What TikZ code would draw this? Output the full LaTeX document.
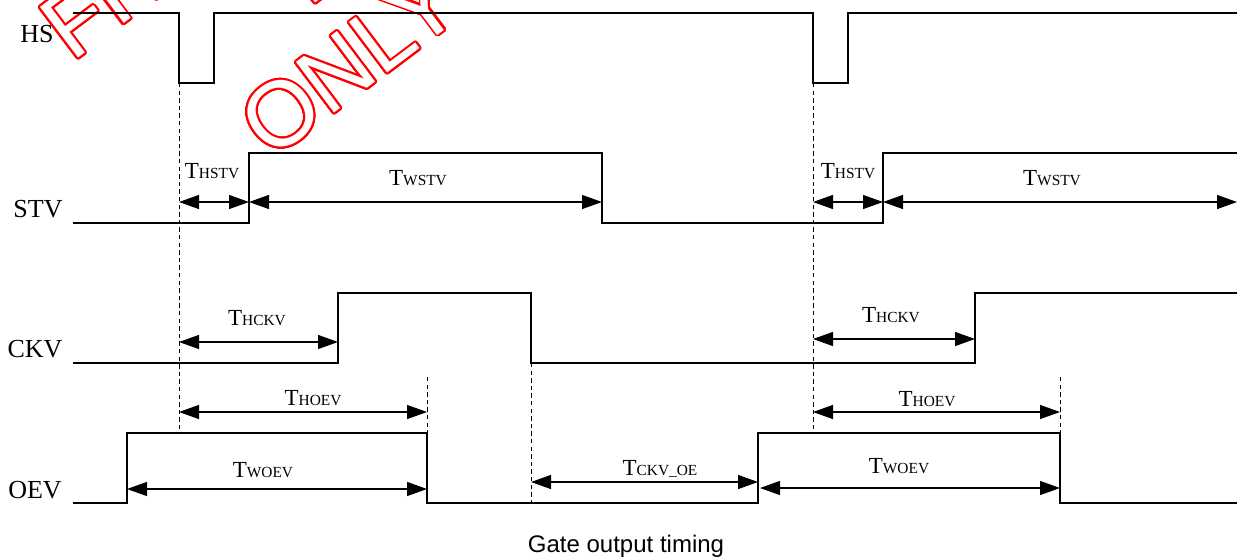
\documentclass[tikz,border=0pt]{standalone}
\usepackage{fontspec}
\setmainfont{Liberation Serif}
\setsansfont{Liberation Sans}
\usepackage[copies]{contour}
\contourlength{0.95pt}
\contournumber{32}
\usetikzlibrary{arrows.meta}
\tikzset{
  wave/.style    = {line width=0.6pt, line join=miter},
  guide/.style   = {line width=0.45pt, dash pattern=on 2.2pt off 1.6pt},
  dim/.style     = {{Triangle[length=10pt,width=7pt]}-{Triangle[length=10pt,width=7pt]},
                    line width=0.65pt},
  signame/.style = {font=\fontsize{13}{14}\selectfont, inner sep=0pt, anchor=base},
  tlbl/.style    = {inner sep=0pt, anchor=base},
  stamp/.style   = {font=\sffamily\fontsize{46}{48}\selectfont, text=white,
                    rotate=37, anchor=base west, inner sep=0pt},
}
\newcommand{\tlab}[1]{{\fontsize{11.5}{12}\selectfont T}{\fontsize{7.7}{8}\selectfont #1}}

\begin{document}
\begin{tikzpicture}[x=0.5pt, y=-0.5pt]
\useasboundingbox (0,0) rectangle (1237,558);
% ---- watermark ----
\begin{scope}
\clip (0,0) rectangle (1237,558);
\node[stamp] (wm1) at (72,63) {\contour{red}{FITIPOWER}};
\node[stamp] (wm2) at (309,8) {\contour{red}{FOR}};
\node[stamp] (wm3) at (271,161) {\contour{red}{ONLY}};
\end{scope}

% ---- waveforms ----
\draw[wave] (73,13) -- (179,13) -- (179,83) -- (214,83) -- (214,13) -- (813,13)
  -- (813,83) -- (848,83) -- (848,13) -- (1237,13);
\draw[wave] (73,223) -- (249,223) -- (249,153) -- (602,153) -- (602,223) -- (883,223)
  -- (883,153) -- (1237,153);
\draw[wave] (73,363) -- (338,363) -- (338,293) -- (531,293) -- (531,363) -- (975,363)
  -- (975,293) -- (1237,293);
\draw[wave] (73,503) -- (127,503) -- (127,433) -- (427,433) -- (427,503) -- (758,503)
  -- (758,433) -- (1060,433) -- (1060,503) -- (1237,503);

\node[signame] (hs)  at (37,42)  {HS};
\node[signame] (stv) at (38,217) {STV};
\node[signame] (ckv) at (35,357) {CKV};
\node[signame] (oev) at (35,498) {OEV};

% ---- reference lines ----
\coordinate (g1a) at (179,83);   \coordinate (g1b) at (179,433);
\coordinate (g2a) at (813,83);   \coordinate (g2b) at (813,433);
\coordinate (g3a) at (427,377);  \coordinate (g3b) at (427,433);
\coordinate (g4a) at (1060,377); \coordinate (g4b) at (1060,433);
\coordinate (g5a) at (531,363);  \coordinate (g5b) at (531,503);
\draw[guide] (g1a) -- (g1b);
\draw[guide] (g2a) -- (g2b);
\draw[guide] (g3a) -- (g3b);
\draw[guide] (g4a) -- (g4b);
\draw[guide] (g5a) -- (g5b);

% ---- STV timing ----
\coordinate (s1) at (179,202); \coordinate (s2) at (249,202); \coordinate (s3) at (602,202);
\coordinate (s4) at (813,202); \coordinate (s5) at (883,202); \coordinate (s6) at (1237,202);
\draw[dim] (s1) -- (s2);
\draw[dim] (s2) -- (s3);
\draw[dim] (s4) -- (s5);
\draw[dim] (s5) -- (s6);
\node[tlbl] (hstv1) at (212,178)  {\tlab{HSTV}};
\node[tlbl] (wstv1) at (418,185)  {\tlab{WSTV}};
\node[tlbl] (hstv2) at (848,178)  {\tlab{HSTV}};
\node[tlbl] (wstv2) at (1052,185) {\tlab{WSTV}};

% ---- CKV timing ----
\coordinate (c1) at (179,342); \coordinate (c2) at (338,342);
\coordinate (c3) at (813,339); \coordinate (c4) at (975,339);
\draw[dim] (c1) -- (c2);
\draw[dim] (c3) -- (c4);
\node[tlbl] (hckv1) at (257,325) {\tlab{HCKV}};
\node[tlbl] (hckv2) at (891,322) {\tlab{HCKV}};

% ---- OEV timing ----
\coordinate (o1) at (179,412); \coordinate (o2) at (427,412);
\coordinate (o3) at (813,412); \coordinate (o4) at (1060,412);
\coordinate (o5) at (127,489); \coordinate (o6) at (427,489);
\coordinate (o7) at (531,482); \coordinate (o8) at (758,482);
\coordinate (o9) at (760,488); \coordinate (o10) at (1060,488);
\draw[dim] (o1) -- (o2);
\draw[dim] (o3) -- (o4);
\draw[dim] (o5) -- (o6);
\draw[dim] (o7) -- (o8);
\draw[dim] (o9) -- (o10);
\node[tlbl] (hoev1)  at (313,405) {\tlab{HOEV}};
\node[tlbl] (hoev2)  at (927,406) {\tlab{HOEV}};
\node[tlbl] (woev1)  at (263,477) {\tlab{WOEV}};
\node[tlbl] (ckvoe)  at (660,475) {\tlab{CKV\_OE}};
\node[tlbl] (woev2)  at (899,473) {\tlab{WOEV}};

\node[font=\sffamily\fontsize{12}{13}\selectfont, anchor=base, inner sep=0pt] (title)
  at (626,552) {Gate output timing};
\end{tikzpicture}
\end{document}
